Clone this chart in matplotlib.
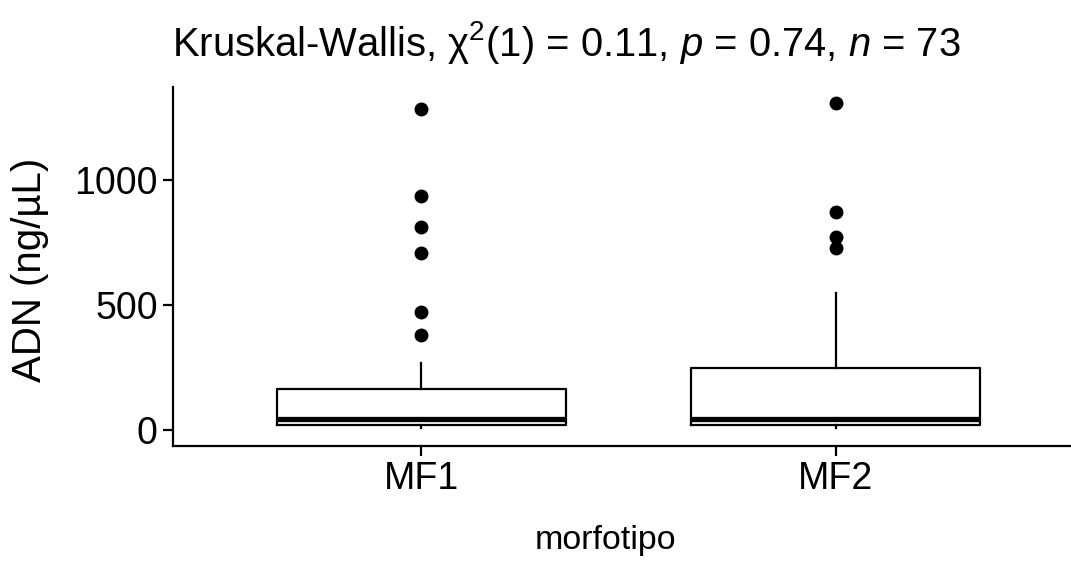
import matplotlib
matplotlib.use("Agg")
import matplotlib.pyplot as plt

plt.rcParams["font.family"] = ["Liberation Sans", "DejaVu Sans"]
plt.rcParams["mathtext.fontset"] = "custom"
plt.rcParams["mathtext.rm"] = "Liberation Sans"
plt.rcParams["mathtext.it"] = "Liberation Sans:italic"

# summary of ADN concentration per morphotype (ng/uL)
groups = ["MF1", "MF2"]
q1 = [19, 19]
med = [45, 45]
q3 = [163, 247]
whislo = [7, 7]
whishi = [269, 547]
outliers = [
    [379, 473, 709, 813, 936, 1284],
    [729, 773, 873, 1307],
]

title = r"Kruskal-Wallis, χ$^{2}$(1) = 0.11, $p$ = 0.74, $n$ = 73"

stats = []
for i, g in enumerate(groups):
    stats.append(dict(label=g, q1=q1[i], med=med[i], q3=q3[i],
                      whislo=whislo[i], whishi=whishi[i], fliers=outliers[i]))

fig = plt.figure(figsize=(10.71, 5.61), dpi=100)
ax = fig.add_axes([173 / 1071, 1 - 445.7 / 561, 911 / 1071, 358.7 / 561])

ax.bxp(stats, positions=[1, 2], widths=0.7, showcaps=False,
       boxprops=dict(color="black", linewidth=1.6),
       whiskerprops=dict(color="black", linewidth=1.6),
       medianprops=dict(color="black", linewidth=3.8),
       flierprops=dict(marker="o", markerfacecolor="black",
                       markeredgecolor="black", markersize=9))

ax.set_xlim(0.4, 2.6)
ax.set_ylim(-63, 1372)
ax.set_yticks([0, 500, 1000])
ax.set_xticks([1, 2])
ax.set_xticklabels(groups)

for side in ["top", "right"]:
    ax.spines[side].set_visible(False)
for side in ["left", "bottom"]:
    ax.spines[side].set_linewidth(1.6)
ax.tick_params(axis="both", length=7, width=1.6, labelsize=27, pad=4,
               colors="black", labelcolor="black")

ax.set_xlabel("morfotipo", fontsize=24.5, color="black")
ax.set_ylabel("ADN (ng/µL)", fontsize=29, color="black")
ax.xaxis.label.set_va("center")
ax.yaxis.label.set_va("center")
ax.xaxis.set_label_coords((606 - 173) / 911, (445.7 - 541) / 358.7)
ax.yaxis.set_label_coords((30 - 173) / 911, (445.7 - 270) / 358.7)

fig.text(172 / 1071, 1 - 42 / 561, title, ha="left", va="center", fontsize=28.8)

fig.savefig("out.png", dpi=100)
